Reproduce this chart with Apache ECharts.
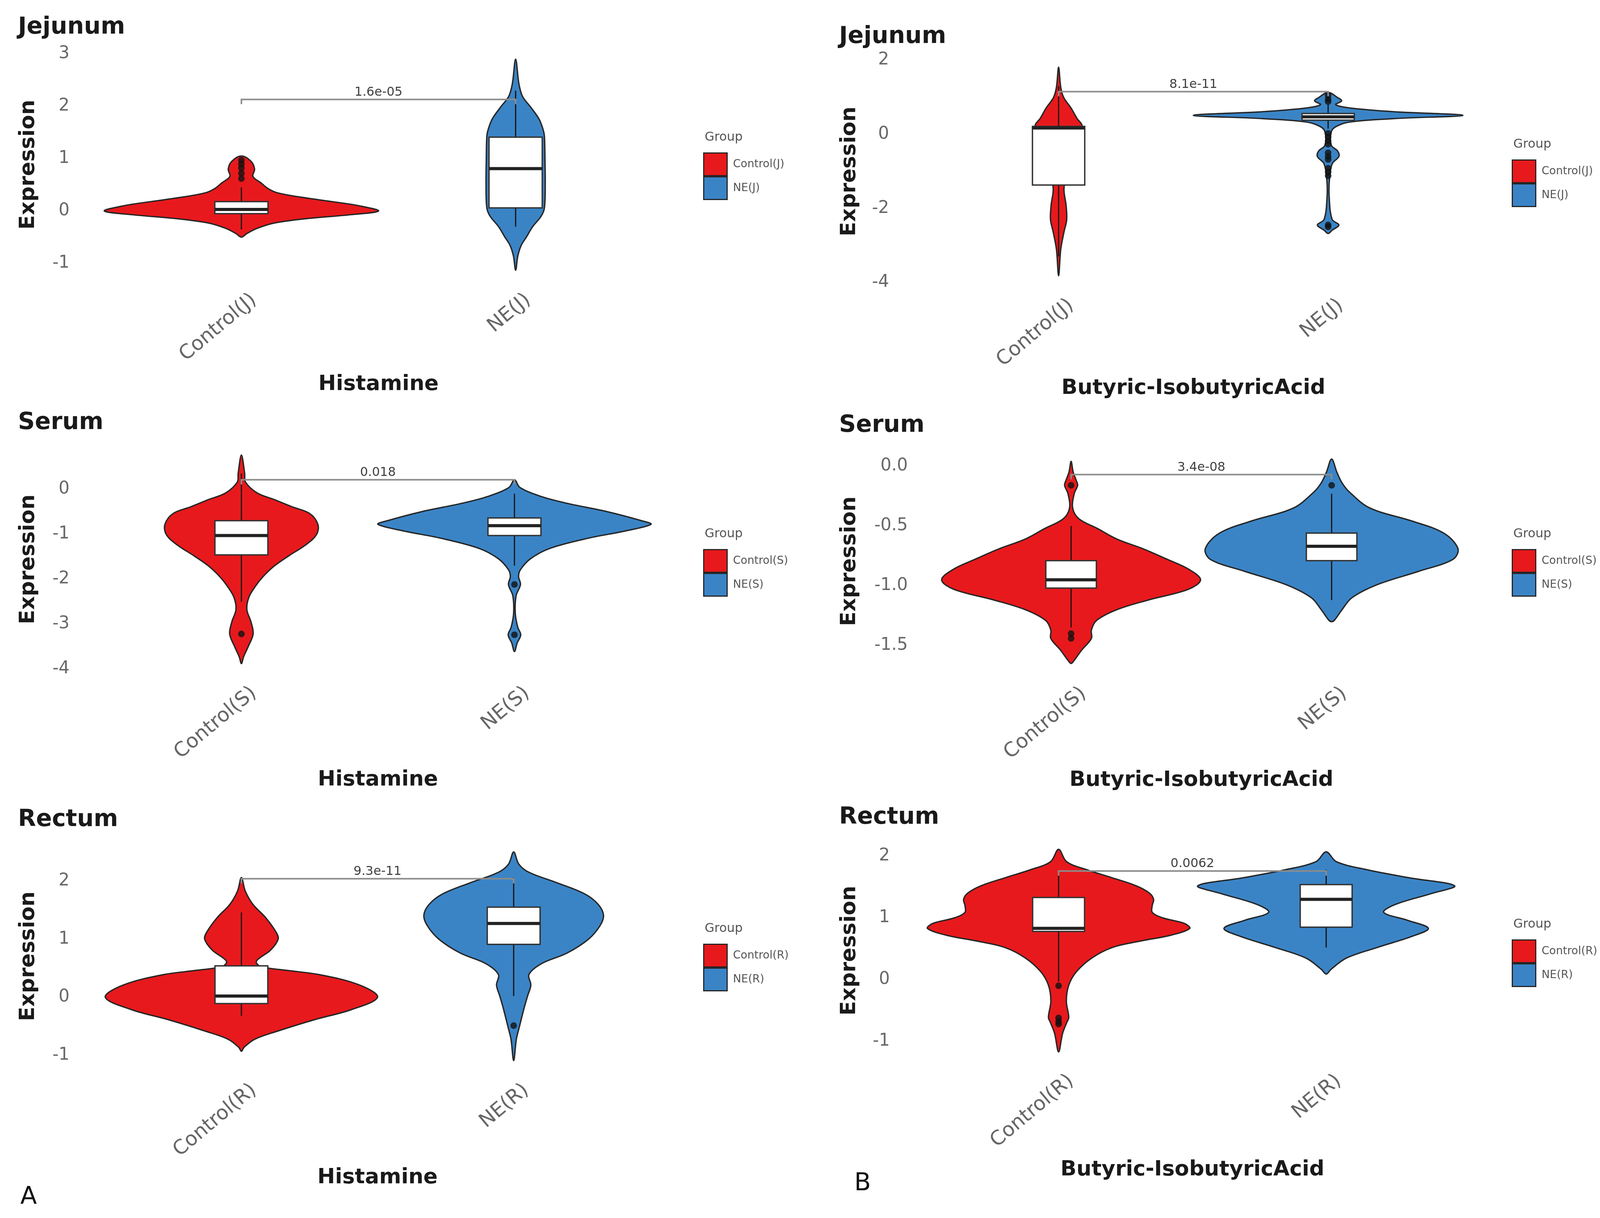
<!DOCTYPE html>
<html><head><meta charset="utf-8">
<script src="https://cdn.jsdelivr.net/npm/echarts@6/dist/echarts.min.js"></script>
<style>html,body{margin:0;padding:0;background:#fff}#c{width:4097px;height:3117px}</style>
</head><body><div id="c"></div>
<script>
// ---------------- DATA ----------------
const panelTitles = ['Jejunum', 'Jejunum', 'Serum', 'Serum', 'Rectum', 'Rectum'];
const metabolites = ['Histamine', 'Butyric-IsobutyricAcid', 'Histamine', 'Butyric-IsobutyricAcid', 'Histamine', 'Butyric-IsobutyricAcid'];
const groupNames = [
  ['Control(J)', 'NE(J)'], ['Control(J)', 'NE(J)'],
  ['Control(S)', 'NE(S)'], ['Control(S)', 'NE(S)'],
  ['Control(R)', 'NE(R)'], ['Control(R)', 'NE(R)']
];
const yTicks = [[-1, 0, 1, 2, 3], [-4, -2, 0, 2], [-4, -3, -2, -1, 0], [-1.5, -1, -0.5, 0], [-1, 0, 1, 2], [-1, 0, 1, 2]];
const yRanges = [[-1.33, 3.10], [-4.1, 2.09], [-4.11, 0.99], [-1.74, 0.15], [-1.27, 2.68], [-1.33, 2.27]];
const pValues = ['1.6e-05', '8.1e-11', '0.018', '3.4e-08', '9.3e-11', '0.0062'];
const pBracketY = [2.13, 1.15, 0.21, -0.07, 2.04, 1.76];

// violin profiles: [expression value, half width (in category units)]
const jejHisCtrlViolin = [[-0.50,0],[-0.43,0.02],[-0.33,0.058],[-0.23,0.12],[-0.15,0.23],[-0.07,0.40],[0,0.50],[0.10,0.43],[0.18,0.33],[0.27,0.21],[0.35,0.13],[0.43,0.097],[0.53,0.073],[0.66,0.042],[0.80,0.048],[0.95,0.035],[1.05,0]];
const jejHisNEViolin = [[-1.13,0],[-0.86,0.008],[-0.66,0.02],[-0.50,0.039],[-0.30,0.062],[-0.10,0.093],[0.06,0.105],[0.5,0.108],[1.0,0.107],[1.43,0.105],[1.56,0.10],[1.76,0.085],[1.99,0.054],[2.19,0.025],[2.43,0.012],[2.9,0]];
const jejButCtrlViolin = [[-3.82,0],[-3.11,0.008],[-2.64,0.02],[-2.31,0.03],[-1.93,0.028],[-1.46,0.02],[-1.0,0.035],[-0.5,0.06],[0,0.08],[0.24,0.087],[0.42,0.069],[0.71,0.046],[0.99,0.019],[1.27,0.008],[1.81,0]];
const jejButNEViolin = [[-2.68,0],[-2.59,0.015],[-2.45,0.04],[-2.3,0.015],[-1.7,0.004],[-1.22,0.005],[-0.8,0.015],[-0.6,0.04],[-0.45,0.035],[-0.3,0.012],[0.07,0.012],[0.21,0.03],[0.33,0.08],[0.42,0.24],[0.51,0.50],[0.61,0.24],[0.71,0.08],[0.8,0.028],[0.9,0.05],[0.99,0.035],[1.13,0]];
const serHisCtrlViolin = [[-3.88,0],[-3.73,0.008],[-3.5,0.025],[-3.22,0.043],[-2.95,0.035],[-2.68,0.02],[-2.41,0.027],[-2.17,0.05],[-1.94,0.08],[-1.71,0.12],[-1.48,0.174],[-1.24,0.235],[-1.01,0.275],[-0.78,0.28],[-0.54,0.25],[-0.39,0.185],[-0.23,0.12],[-0.08,0.057],[0.16,0.015],[0.35,0.012],[0.76,0]];
const serHisNEViolin = [[-3.61,0],[-3.42,0.01],[-3.24,0.023],[-3.07,0.012],[-2.76,0.003],[-2.37,0.006],[-2.12,0.022],[-1.94,0.015],[-1.79,0.022],[-1.55,0.058],[-1.32,0.128],[-1.09,0.27],[-0.93,0.405],[-0.78,0.50],[-0.70,0.465],[-0.5,0.34],[-0.31,0.19],[-0.16,0.097],[0.04,0.02],[0.21,0]];
const serButCtrlViolin = [[-1.65,0],[-1.63,0.01],[-1.54,0.04],[-1.44,0.078],[-1.37,0.078],[-1.29,0.098],[-1.20,0.176],[-1.12,0.295],[-1.03,0.45],[-0.95,0.497],[-0.86,0.45],[-0.78,0.37],[-0.69,0.275],[-0.61,0.176],[-0.52,0.10],[-0.44,0.03],[-0.35,0.006],[-0.23,0.012],[-0.16,0.025],[-0.12,0.02],[-0.05,0.008],[0.04,0]];
const serButNEViolin = [[-1.30,0],[-1.29,0.01],[-1.20,0.04],[-1.10,0.078],[-0.99,0.176],[-0.88,0.333],[-0.78,0.465],[-0.69,0.485],[-0.56,0.43],[-0.46,0.31],[-0.35,0.147],[-0.22,0.07],[-0.14,0.04],[-0.05,0.02],[0.06,0]];
const recHisCtrlViolin = [[-0.93,0],[-0.86,0.01],[-0.72,0.05],[-0.58,0.135],[-0.39,0.266],[-0.21,0.406],[0,0.50],[0.21,0.434],[0.39,0.285],[0.46,0.17],[0.53,0.07],[0.62,0.055],[0.81,0.107],[1.0,0.135],[1.13,0.126],[1.37,0.089],[1.6,0.042],[1.83,0.014],[2.06,0]];
const recHisNEViolin = [[-1.09,0],[-0.72,0.01],[-0.49,0.022],[-0.21,0.037],[0.02,0.051],[0.21,0.063],[0.39,0.056],[0.58,0.103],[0.76,0.196],[1.0,0.275],[1.23,0.317],[1.41,0.33],[1.6,0.31],[1.78,0.26],[1.97,0.159],[2.15,0.056],[2.29,0.019],[2.5,0]];
const recButCtrlViolin = [[-1.17,0],[-0.87,0.015],[-0.70,0.03],[-0.61,0.038],[-0.35,0.029],[-0.09,0.038],[0.13,0.067],[0.35,0.124],[0.52,0.2],[0.62,0.3],[0.72,0.42],[0.83,0.49],[0.91,0.47],[1.0,0.39],[1.09,0.35],[1.2,0.35],[1.30,0.355],[1.40,0.34],[1.52,0.29],[1.65,0.2],[1.78,0.105],[1.91,0.03],[2.11,0]];
const recButNEViolin = [[0.09,0],[0.17,0.019],[0.35,0.076],[0.52,0.19],[0.70,0.32],[0.83,0.382],[0.96,0.305],[1.09,0.215],[1.22,0.26],[1.39,0.39],[1.52,0.48],[1.65,0.31],[1.78,0.153],[1.91,0.038],[2.07,0]];

// boxplot stats: [lower whisker, Q1, median, Q3, upper whisker]
const jejHisCtrlBox = [-0.35, -0.05, 0.03, 0.18, 0.45];
const jejHisNEBox = [-0.3, 0.06, 0.81, 1.41, 2.3];
const jejButCtrlBox = [-3.3, -1.37, 0.17, 0.21, 1.3];
const jejButNEBox = [0.15, 0.38, 0.47, 0.56, 0.8];
const serHisCtrlBox = [-2.5, -1.46, -1.03, -0.70, 0.35];
const serHisNEBox = [-1.7, -1.03, -0.81, -0.64, -0.1];
const serButCtrlBox = [-1.35, -1.02, -0.95, -0.79, -0.5];
const serButNEBox = [-1.12, -0.79, -0.67, -0.56, -0.23];
const recHisCtrlBox = [-0.32, -0.11, 0.02, 0.54, 1.46];
const recHisNEBox = [0.02, 0.91, 1.27, 1.55, 2.06];
const recButCtrlBox = [-0.03, 0.78, 0.83, 1.33, 1.76];
const recButNEBox = [0.52, 0.85, 1.30, 1.54, 1.78];

// outliers
const jejHisCtrlOut = [0.62, 0.72, 0.82, 0.9, 0.97];
const jejHisNEOut = [];
const jejButCtrlOut = [];
const jejButNEOut = [1.05, 0.95, 0.88, 0.02, -0.08, -0.18, -0.27, -0.5, -0.6, -0.68, -0.92, -1.02, -1.12, -2.45, -2.5];
const serHisCtrlOut = [-3.22];
const serHisNEOut = [-2.12, -3.24];
const serButCtrlOut = [-0.16, -1.40, -1.44];
const serButNEOut = [-0.16];
const recHisCtrlOut = [];
const recHisNEOut = [-0.49];
const recButCtrlOut = [-0.1, -0.62, -0.68, -0.72];
const recButNEOut = [];

const violins = [
  [jejHisCtrlViolin, jejHisNEViolin], [jejButCtrlViolin, jejButNEViolin],
  [serHisCtrlViolin, serHisNEViolin], [serButCtrlViolin, serButNEViolin],
  [recHisCtrlViolin, recHisNEViolin], [recButCtrlViolin, recButNEViolin]
];
const boxes = [
  [jejHisCtrlBox, jejHisNEBox], [jejButCtrlBox, jejButNEBox],
  [serHisCtrlBox, serHisNEBox], [serButCtrlBox, serButNEBox],
  [recHisCtrlBox, recHisNEBox], [recButCtrlBox, recButNEBox]
];
const outliers = [
  [jejHisCtrlOut, jejHisNEOut], [jejButCtrlOut, jejButNEOut],
  [serHisCtrlOut, serHisNEOut], [serButCtrlOut, serButNEOut],
  [recHisCtrlOut, recHisNEOut], [recButCtrlOut, recButNEOut]
];

// ---------------- LAYOUT / STYLE ----------------
const FONT = 'DejaVu Sans';
const COLORS = ['#E8191C', '#3A84C6'];
const layout = [
  {c:[618,1320],  zeroY:540,   ppu:134,   titleX:46,   titleY:76,   nameRight:100,  xNameTop:965,  legendX:1800, legendY:390,  labelRight:178,  fmt:0},
  {c:[2710,3400], zeroY:343.5, ppu:94.8,  titleX:2148, titleY:100,  nameRight:2202, xNameTop:975,  legendX:3870, legendY:408,  labelRight:2276, fmt:0},
  {c:[618,1317],  zeroY:1252,  ppu:115,   titleX:46,   titleY:1088, nameRight:100,  xNameTop:1977, legendX:1800, legendY:1405, labelRight:178,  fmt:0},
  {c:[2742,3409], zeroY:1193,  ppu:306,   titleX:2148, titleY:1095, nameRight:2202, xNameTop:1978, legendX:3870, legendY:1405, labelRight:2324, fmt:1},
  {c:[618,1315],  zeroY:2552,  ppu:148.7, titleX:46,   titleY:2104, nameRight:100,  xNameTop:2995, legendX:1800, legendY:2415, labelRight:178,  fmt:0},
  {c:[2710,3395], zeroY:2507,  ppu:158,   titleX:2148, titleY:2098, nameRight:2202, xNameTop:2975, legendX:3870, legendY:2404, labelRight:2278, fmt:0}
];

const grids = [], xAxes = [], yAxes = [], series = [], legends = [], graphics = [];

layout.forEach((L, i) => {
  const sp = L.c[1] - L.c[0];
  const left = L.c[0] - 0.6 * sp;
  const width = 2.2 * sp;
  const [ymin, ymax] = yRanges[i];
  const top = L.zeroY - ymax * L.ppu;
  const height = (ymax - ymin) * L.ppu;
  const bottom = top + height;
  grids.push({left, top, width, height, outerBoundsMode: 'none', containLabel: false});
  xAxes.push({
    gridIndex: i, type: 'value', min: 0.4, max: 2.6,
    axisLine: {show: false}, axisTick: {show: false}, splitLine: {show: false},
    axisLabel: {
      customValues: [1, 2], rotate: 40, margin: 70, fontSize: 51, color: '#666666', fontFamily: FONT,
      padding: [0, -42, 0, 0],
      formatter: v => groupNames[i][Math.round(v) - 1]
    },
    name: metabolites[i], nameLocation: 'middle', nameGap: L.xNameTop - 8 - bottom,
    nameTextStyle: {fontSize: 54, fontWeight: 'bold', color: '#1a1a1a', fontFamily: FONT}
  });
  yAxes.push({
    gridIndex: i, type: 'value', min: ymin, max: ymax,
    axisLine: {show: false}, axisTick: {show: false}, splitLine: {show: false},
    axisLabel: {
      customValues: yTicks[i], margin: left - L.labelRight, fontSize: 44, color: '#686868', fontFamily: FONT,
      formatter: v => L.fmt ? v.toFixed(1) : String(v)
    },
    name: 'Expression', nameLocation: 'middle', nameGap: left - L.nameRight,
    nameTextStyle: {fontSize: 54, fontWeight: 'bold', color: '#1a1a1a', fontFamily: FONT}
  });

  [0, 1].forEach(gi => {
    const profile = violins[i][gi];
    const box = boxes[i][gi];
    const color = COLORS[gi];
    series.push({
      type: 'custom', name: groupNames[i][gi], xAxisIndex: i, yAxisIndex: i,
      coordinateSystem: 'cartesian2d', clip: false, z: 2, silent: true,
      itemStyle: {color},
      data: [[gi + 1, box[2]]],
      encode: {x: 0, y: 1},
      renderItem(params, api) {
        const cx = gi + 1;
        const right = profile.map(p => api.coord([cx + p[1], p[0]]));
        const leftSide = profile.slice(1, -1).reverse().map(p => api.coord([cx - p[1], p[0]]));
        const pts = right.concat(leftSide);
        const bw = 0.097;
        const [lo, q1, med, q3, hi] = box;
        const pLo = api.coord([cx, lo]), pHi = api.coord([cx, hi]);
        const b1 = api.coord([cx - bw, q3]), b2 = api.coord([cx + bw, q1]);
        const m1 = api.coord([cx - bw, med]), m2 = api.coord([cx + bw, med]);
        return {type: 'group', children: [
          {type: 'polygon', shape: {points: pts, smooth: 0.35}, style: {fill: color, stroke: '#262626', lineWidth: 3.5}},
          {type: 'line', shape: {x1: pLo[0], y1: pLo[1], x2: pHi[0], y2: pHi[1]}, style: {stroke: '#111', lineWidth: 3}},
          {type: 'rect', shape: {x: b1[0], y: b1[1], width: b2[0] - b1[0], height: b2[1] - b1[1]}, style: {fill: '#fff', stroke: '#333', lineWidth: 3.5}},
          {type: 'line', shape: {x1: m1[0], y1: m1[1], x2: m2[0], y2: m2[1]}, style: {stroke: '#222', lineWidth: 8}}
        ]};
      }
    });
    if (outliers[i][gi].length) {
      series.push({
        type: 'scatter', xAxisIndex: i, yAxisIndex: i, silent: true, z: 5,
        data: outliers[i][gi].map(v => [gi + 1, v]),
        symbolSize: 17, itemStyle: {color: '#111'}
      });
    }
  });

  // p-value bracket
  series.push({
    type: 'custom', xAxisIndex: i, yAxisIndex: i, coordinateSystem: 'cartesian2d', clip: false, z: 6, silent: true,
    data: [[1.5, pBracketY[i]]], encode: {x: 0, y: 1},
    renderItem(params, api) {
      const a = api.coord([1, pBracketY[i]]), b = api.coord([2, pBracketY[i]]);
      const m = api.coord([1.5, pBracketY[i]]);
      const t = 12;
      return {type: 'group', children: [
        {type: 'polyline', shape: {points: [[a[0], a[1] + t], a, b, [b[0], b[1] + t]]}, style: {stroke: '#8c8c8c', lineWidth: 4, fill: null}},
        {type: 'text', x: m[0], y: m[1] - 2, style: {text: pValues[i], fontSize: 32, fill: '#404040', align: 'center', verticalAlign: 'bottom', fontFamily: FONT}}
      ]};
    }
  });

  legends.push({
    data: groupNames[i], orient: 'vertical', left: L.legendX, top: L.legendY,
    itemWidth: 60, itemHeight: 58, itemGap: 0, padding: 0, icon: 'rect', selectedMode: false,
    itemStyle: {borderColor: '#262626', borderWidth: 3},
    textStyle: {fontSize: 28, color: '#555', fontFamily: FONT, padding: [0, 0, 0, 10]}
  });

  graphics.push({type: 'text', left: L.titleX, top: L.titleY - 36,
    style: {text: panelTitles[i], fontSize: 60, fontWeight: 'bold', fill: '#1a1a1a', fontFamily: FONT}});
  graphics.push({type: 'text', left: L.legendX + 4, top: L.legendY - 54,
    style: {text: 'Group', fontSize: 32, fill: '#555', fontFamily: FONT}});
});

graphics.push({type: 'text', left: 52, top: 3034, style: {text: 'A', fontSize: 62, fill: '#111', fontFamily: FONT}});
graphics.push({type: 'text', left: 2187, top: 2999, style: {text: 'B', fontSize: 62, fill: '#111', fontFamily: FONT}});

const chart = echarts.init(document.getElementById('c'), null, {renderer: 'canvas'});
chart.setOption({
  animation: false,
  backgroundColor: '#ffffff',
  grid: grids, xAxis: xAxes, yAxis: yAxes, series, legend: legends, graphic: graphics
});
</script></body></html>
